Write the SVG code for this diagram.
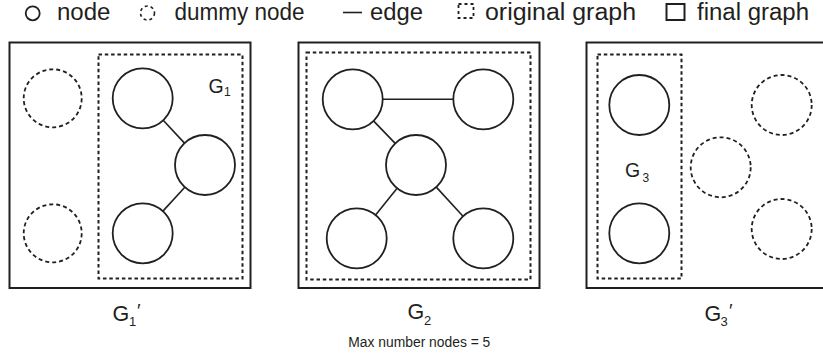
<svg xmlns="http://www.w3.org/2000/svg" width="823" height="358" viewBox="0 0 823 358">
  <style>
    text { font-family: "Liberation Sans", Arial, sans-serif; fill: #231f20; }
    .legend { font-size: 23.5px; }
    .frame { fill: none; stroke: #231f20; stroke-width: 2; }
    .orig { fill: none; stroke: #231f20; stroke-width: 2; stroke-dasharray: 3.5 2.8; }
    .node { fill: #fff; stroke: #231f20; stroke-width: 1.8; }
    .dummy { fill: none; stroke: #231f20; stroke-width: 1.8; stroke-dasharray: 4 3; }
    .edge { stroke: #231f20; stroke-width: 1.6; }
    .lbl { font-size: 21.5px; }
    .lblin { font-size: 19.5px; }
  </style>
  <rect width="823" height="358" fill="#fff"/>

  <!-- legend -->
  <g id="legend">
    <circle cx="32.7" cy="13.3" r="7" class="node"/>
    <text class="legend" x="57" y="20" textLength="53.5" lengthAdjust="spacingAndGlyphs">node</text>
    <circle cx="147.5" cy="13" r="7" fill="none" stroke="#231f20" stroke-width="1.6" stroke-dasharray="3 3"/>
    <text class="legend" x="174.5" y="20" textLength="130" lengthAdjust="spacingAndGlyphs">dummy node</text>
    <line x1="343" y1="12.5" x2="362" y2="12.5" class="edge" stroke-width="2"/>
    <text class="legend" x="370" y="20" textLength="53" lengthAdjust="spacingAndGlyphs">edge</text>
    <rect x="458.5" y="4" width="15" height="14" fill="none" stroke="#231f20" stroke-width="1.8" stroke-dasharray="3 3"/>
    <text class="legend" x="485" y="20" textLength="151" lengthAdjust="spacingAndGlyphs">original graph</text>
    <rect x="666.5" y="4" width="18" height="16" class="frame" stroke-width="1.8"/>
    <text class="legend" x="697" y="20" textLength="112" lengthAdjust="spacingAndGlyphs">final graph</text>
  </g>

  <!-- frames -->
  <g id="frame-g1p">
    <rect x="9.5" y="42.5" width="241" height="245.5" class="frame"/>
    <rect x="98.5" y="54.5" width="144" height="224" class="orig"/>
  </g>
  <g id="frame-g2">
    <rect x="298.5" y="42.5" width="241" height="245.5" class="frame"/>
    <rect x="306.5" y="52.5" width="224" height="227" class="orig"/>
  </g>
  <g id="frame-g3p">
    <rect x="586.5" y="42.5" width="241" height="245.5" class="frame"/>
    <rect x="597.5" y="54.5" width="84" height="224" class="orig"/>
  </g>

  <!-- connectors -->
  <g id="edges">
    <line x1="163.2" y1="120.2" x2="184.5" y2="143.1" class="edge"/>
    <line x1="184.8" y1="187.2" x2="162.9" y2="211.1" class="edge"/>
    <line x1="382.7" y1="99.3" x2="453.3" y2="99.3" class="edge"/>
    <line x1="373.5" y1="120.9" x2="395.2" y2="143.4" class="edge"/>
    <line x1="397.1" y1="188.3" x2="375.6" y2="215" class="edge"/>
    <line x1="436.3" y1="187.1" x2="463" y2="216.2" class="edge"/>
  </g>

  <!-- G1' nodes -->
  <g id="g1p-d1"><circle cx="52.7" cy="98.3" r="29" class="dummy"/></g>
  <g id="g1p-d2"><circle cx="52.7" cy="233.3" r="29" class="dummy"/></g>
  <g id="g1-a"><circle cx="142.7" cy="98.3" r="30" class="node"/></g>
  <g id="g1-b"><circle cx="205" cy="165" r="30" class="node"/></g>
  <g id="g1-c"><circle cx="142.7" cy="233.3" r="30" class="node"/></g>

  <!-- G2 nodes -->
  <g id="g2-a"><circle cx="352.7" cy="99.3" r="30" class="node"/></g>
  <g id="g2-b"><circle cx="483.3" cy="99.3" r="30" class="node"/></g>
  <g id="g2-c"><circle cx="416" cy="165" r="30" class="node"/></g>
  <g id="g2-d"><circle cx="356.7" cy="238.3" r="30" class="node"/></g>
  <g id="g2-e"><circle cx="483.3" cy="238.3" r="30" class="node"/></g>

  <!-- G3' nodes -->
  <g id="g3-a"><circle cx="639.3" cy="105" r="30" class="node"/></g>
  <g id="g3-b"><circle cx="639.3" cy="233.3" r="30" class="node"/></g>
  <g id="g3p-d1"><circle cx="781.7" cy="105" r="30" class="dummy"/></g>
  <g id="g3p-d2"><circle cx="720.7" cy="167.3" r="30" class="dummy"/></g>
  <g id="g3p-d3"><circle cx="781.7" cy="229" r="30" class="dummy"/></g>

  <!-- labels -->
  <g id="labels">
    <text class="lblin" x="208.5" y="93">G</text>
    <text x="224" y="96" font-size="12">1</text>
    <text class="lblin" x="625" y="176.5">G</text>
    <text x="642.5" y="182" font-size="12">3</text>

    <text class="lbl" x="112.5" y="320.5">G</text>
    <text x="129" y="326" font-size="13">1</text>
    <text x="137" y="317" font-size="19">′</text>

    <text class="lbl" x="407.5" y="319">G</text>
    <text x="424" y="325" font-size="13">2</text>

    <text class="lbl" x="704.5" y="320.5">G</text>
    <text x="720.5" y="326" font-size="13">3</text>
    <text x="729" y="317" font-size="19">′</text>

    <text x="348.3" y="347.3" font-size="14" textLength="142" lengthAdjust="spacingAndGlyphs">Max number nodes = 5</text>
  </g>
</svg>
